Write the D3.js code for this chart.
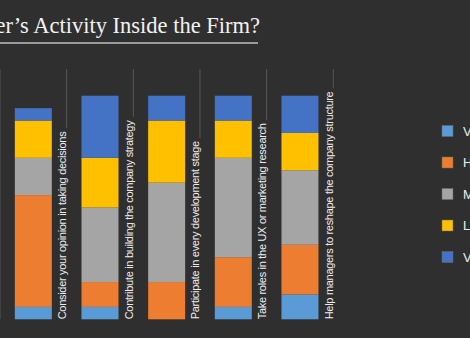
<!DOCTYPE html>
<html>
<head>
<meta charset="utf-8">
<script src="https://cdn.jsdelivr.net/npm/d3@7"></script>
<style>
  html, body { margin: 0; padding: 0; background: #2f2f2f; overflow: hidden; }
  svg { display: block; }
</style>
</head>
<body>
<svg id="chart" width="470" height="338"></svg>
<script>
const categories = [
  'Consider your opinion in taking decisions',
  'Contribute in building the company strategy',
  'Participate in every development stage',
  'Take roles in the UX or marketing research',
  'Help managers to reshape the company structure'
];
const levels = ['Very high', 'High', 'Medium', 'Low', 'Very low'];
const colors = ['#5b9bd5', '#ed7d31', '#a5a5a5', '#ffc000', '#4472c4'];

// respondents per answer, one array per level (bottom to top)
const veryHigh = [1, 1, 0, 1, 2];
const high     = [9, 2, 3, 4, 4];
const medium   = [3, 6, 8, 8, 6];
const low      = [3, 4, 5, 3, 3];
const veryLow  = [1, 5, 2, 2, 3];

const title = 'Designer\u2019s Activity Inside the Firm?';

const bg = '#2f2f2f';
const svg = d3.select('#chart');

svg.append('rect').attr('width', 470).attr('height', 338).attr('fill', bg);

// title, clipped at the left edge
svg.append('text')
  .attr('x', 260).attr('y', 33)
  .attr('text-anchor', 'end')
  .attr('font-family', '"Liberation Serif", serif')
  .attr('font-size', 22.5)
  .attr('fill', '#f2f2f2')
  .text(title);

svg.append('line')
  .attr('x1', 0).attr('x2', 258)
  .attr('y1', 43).attr('y2', 43)
  .attr('stroke', '#9a9a9a').attr('stroke-width', 2);

const rows = categories.map((c, i) => ({
  cat: c,
  'Very high': veryHigh[i],
  'High': high[i],
  'Medium': medium[i],
  'Low': low[i],
  'Very low': veryLow[i]
}));

const series = d3.stack().keys(levels)(rows);

const x = d3.scaleBand()
  .domain(categories)
  .range([0, 333.3])
  .paddingInner(0.445)
  .paddingOuter(0.2225);

const y = d3.scaleLinear().domain([0, 18]).range([319.3, 95.7]);
const color = d3.scaleOrdinal().domain(levels).range(colors);

// category separators
const bounds = [0].concat(categories.map(c => x(c) - x.step() * x.paddingOuter() + x.step()));
svg.append('g')
  .selectAll('line')
  .data(bounds)
  .join('line')
  .attr('x1', d => d).attr('x2', d => d)
  .attr('y1', 69).attr('y2', 319)
  .attr('stroke', '#575757').attr('stroke-width', 1);

svg.append('g')
  .selectAll('g')
  .data(series)
  .join('g')
  .attr('fill', d => color(d.key))
  .selectAll('rect')
  .data(d => d)
  .join('rect')
  .attr('x', d => x(d.data.cat))
  .attr('width', x.bandwidth())
  .attr('y', d => y(d[1]))
  .attr('height', d => y(d[0]) - y(d[1]));

// rotated category labels sitting against the separators
const labels = svg.append('g')
  .selectAll('g')
  .data(categories)
  .join('g')
  .attr('transform', (d, i) => `translate(${bounds[i + 1] - 0.5},${y(0)}) rotate(-90)`);

labels.append('rect').attr('class', 'mask').attr('fill', bg);
labels.append('text')
  .attr('font-family', '"Liberation Sans", Arial, sans-serif')
  .attr('font-size', 11)
  .attr('letter-spacing', -0.3)
  .attr('fill', '#ededed')
  .text(d => d);

labels.each(function () {
  const g = d3.select(this);
  const b = g.select('text').node().getBBox();
  g.select('rect.mask')
    .attr('x', b.x).attr('y', b.y)
    .attr('width', b.width + 3).attr('height', b.height + 1);
});

// legend
const ly = d3.scalePoint().domain(levels).range([131, 257]);
const legend = svg.append('g')
  .selectAll('g')
  .data(levels)
  .join('g')
  .attr('transform', d => `translate(442,${ly(d)})`);

legend.append('rect')
  .attr('x', 0).attr('y', -5.5)
  .attr('width', 11).attr('height', 11)
  .attr('fill', d => color(d))
  .attr('stroke', '#6a6a6a').attr('stroke-width', 0.5);

legend.append('text')
  .attr('x', 21).attr('y', 4.5)
  .attr('font-family', '"Liberation Sans", Arial, sans-serif')
  .attr('font-size', 13)
  .attr('fill', '#ededed')
  .text(d => d);
</script>
</body>
</html>
